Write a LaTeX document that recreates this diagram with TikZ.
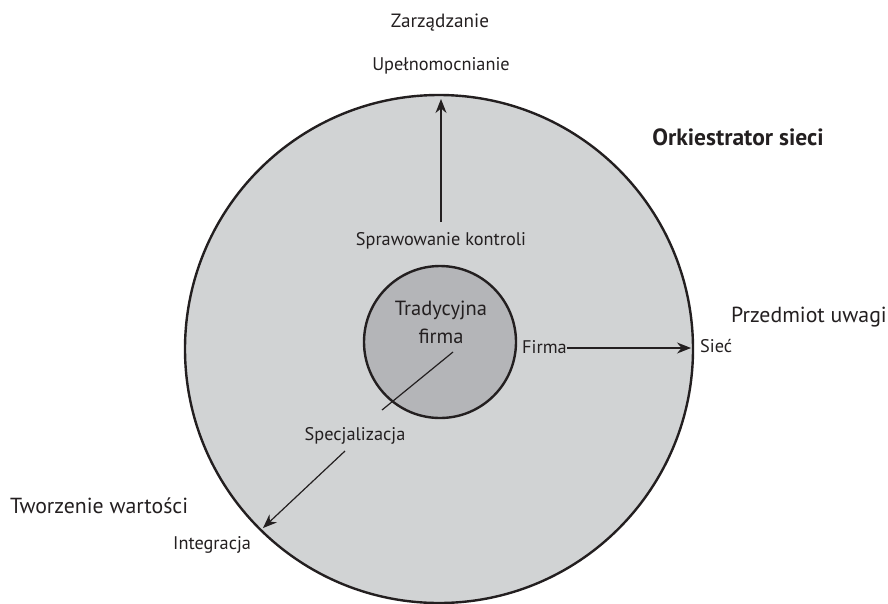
\documentclass[tikz,border=0pt]{standalone}
\usepackage{fontspec}
\setmainfont{PT Sans}
\usetikzlibrary{arrows.meta}
\definecolor{ink}{HTML}{231F20}
\definecolor{outerfill}{HTML}{D1D3D4}
\definecolor{innerfill}{HTML}{B4B5B8}
\begin{document}
\begin{tikzpicture}[x=1pt,y=-1pt,
  ring/.style={circle, draw=ink, line width=2.4pt, inner sep=0pt},
  biglabel/.style={text=ink, inner sep=0pt, anchor=base, font=\fontsize{21.8}{24}\selectfont},
  smalllabel/.style={text=ink, inner sep=0pt, anchor=base, font=\fontsize{18.3}{20}\selectfont},
  flow/.style={draw=ink, line width=1.2pt, -{Stealth[length=14pt,width=11pt]}},
  tie/.style={draw=ink, line width=1.2pt}]
\useasboundingbox (0,0) rectangle (888,603);

% the network and the firm at its centre
\node[ring, fill=outerfill, minimum size=508pt] (net) at (439,349) {};
\node[ring, fill=innerfill, minimum size=152pt] (firm) at (440,342) {};

% axis labels and pole labels
\node[biglabel, font=\fontsize{19.2}{22}\selectfont] (mgmt) at (440,27) {Zarządzanie};
\node[smalllabel] (empower) at (441,70) {Upełnomocnianie};
\node[smalllabel] (control) at (441,245) {Sprawowanie kontroli};
\node[biglabel, font=\fontsize{23.5}{26}\bfseries] (orch) at (738,145) {Orkiestrator sieci};
\node[biglabel, anchor=base east] (focus) at (887,322) {Przedmiot uwagi};
\node[smalllabel, anchor=base west] (focusnet) at (700,352) {Sieć};
\node[smalllabel, anchor=base west] (focusfirm) at (522,353) {Firma};
\node[biglabel, font=\fontsize{20.5}{24}\selectfont] (trad1) at (441,315) {Tradycyjna};
\node[biglabel, font=\fontsize{20.5}{24}\selectfont] (trad2) at (441,343) {firma};
\node[smalllabel] (spec) at (355,440) {Specjalizacja};
\node[biglabel, anchor=base west] (value) at (10,513) {Tworzenie wartości};
\node[smalllabel, anchor=base west] (integ) at (173,549) {Integracja};

% connectors
\coordinate (ctrltop) at (441,222);
\coordinate (ctrltip) at (441,99);
\draw[flow] (ctrltop) -- (ctrltip);
\coordinate (firmend) at (691,348);
\draw[flow] (focusfirm.east |- 0,348) -- (firmend);
\coordinate (specstart) at (453,352);
\coordinate (specend) at (382,410);
\draw[tie] (specstart) -- (specend);
\coordinate (integstart) at (345,451);
\coordinate (integtip) at (263,528);
\draw[flow] (integstart) -- (integtip);
\end{tikzpicture}
\end{document}
